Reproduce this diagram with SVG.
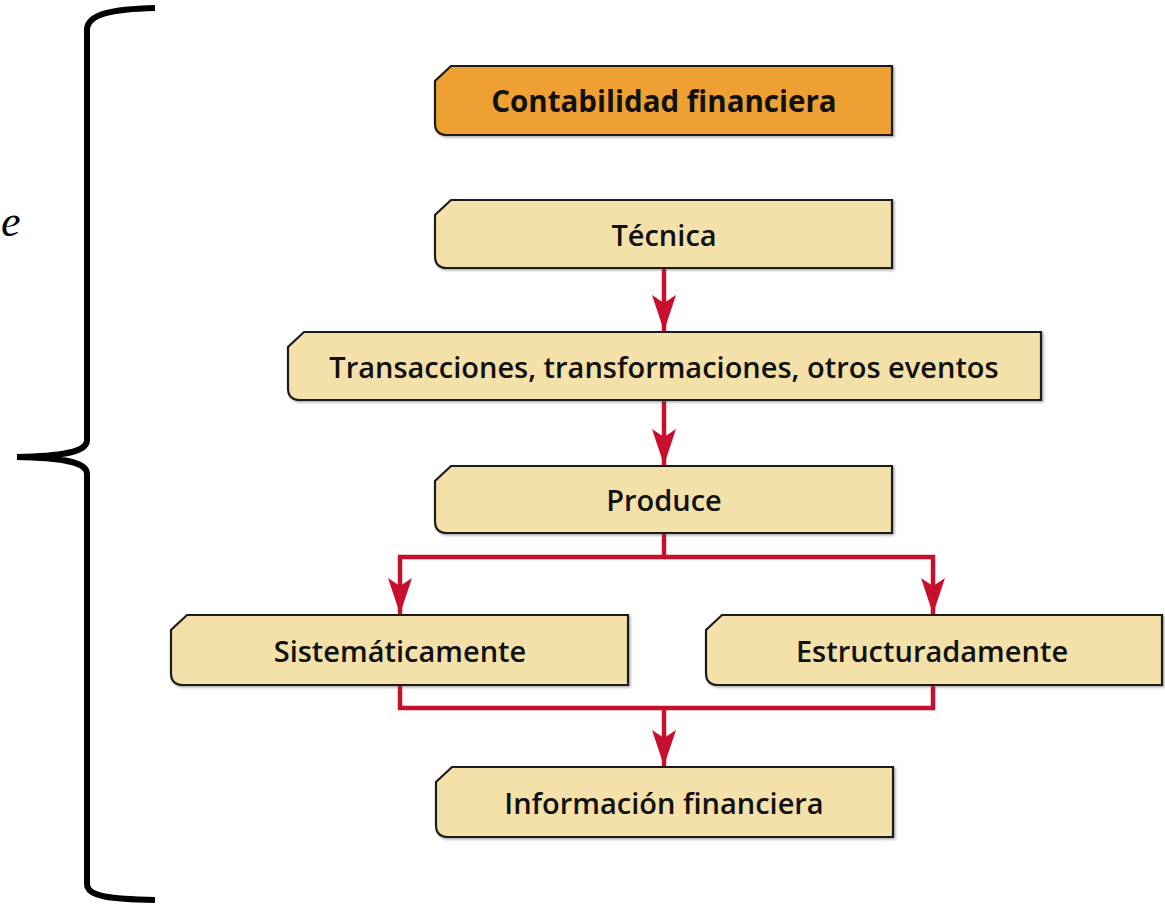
<svg xmlns="http://www.w3.org/2000/svg" width="1165" height="907" viewBox="0 0 1165 907">
<style>
.box{stroke:#1e1e1e;stroke-width:2.2;filter:url(#sh)}
.main{fill:#EEA132}
.sub{fill:#F3E1A9}
.lbl{font-family:"Open Sans","Liberation Sans",sans-serif;font-size:29px;font-weight:600;fill:#111;text-anchor:middle;dominant-baseline:central}
.bold{font-weight:700;font-size:29.5px}
.con{fill:none;stroke:#C8102E;stroke-width:4.5}
.brace{fill:none;stroke:#000;stroke-width:6;stroke-linecap:butt}
</style>
<defs>
<filter id="sh" x="-5%" y="-10%" width="110%" height="130%">
<feDropShadow dx="1.5" dy="1.5" stdDeviation="1" flood-color="#555" flood-opacity="0.5"/>
</filter>
<marker id="ah" markerUnits="userSpaceOnUse" viewBox="-2 -14 40 28" markerWidth="40" markerHeight="28" refX="36" refY="0" orient="auto">
<path d="M0,-12 L36,0 L0,12 L8,0 Z" fill="#C8102E"/>
</marker>
</defs>
<rect width="1165" height="907" fill="#fff"/>
<text x="1" y="236" font-family="Liberation Serif, serif" font-style="italic" font-size="44" fill="#000">e</text>
<path class="brace" d="M155,8 C112,9 87,14 87,30 V440 C87,451 68,456 17,457 C68,458 87,463 87,474 V884 C87,897 112,899 155,900"/>
<g id="connectors">
<path class="con" d="M664,268 V331" marker-end="url(#ah)"/>
<path class="con" d="M664,400 V465" marker-end="url(#ah)"/>
<path class="con" d="M664,533 V557 H400 V614" marker-end="url(#ah)"/>
<path class="con" d="M664,557 H933 V614" marker-end="url(#ah)"/>
<path class="con" d="M400,685 V708 H933 V685"/>
<path class="con" d="M664,708 V766" marker-end="url(#ah)"/>
</g>
<g id="n1">
<path class="box main" d="M451,66 H892 V135 H447 Q435,135 435,123 V81 Z"/>
<text class="lbl bold" x="664" y="100">Contabilidad financiera</text>
</g>
<g id="n2">
<path class="box sub" d="M451,200 H892 V268 H447 Q435,268 435,256 V215 Z"/>
<text class="lbl" x="664" y="234">Técnica</text>
</g>
<g id="n3">
<path class="box sub" d="M304,332 H1041 V400 H300 Q288,400 288,388 V347 Z"/>
<text class="lbl" x="664" y="366">Transacciones, transformaciones, otros eventos</text>
</g>
<g id="n4">
<path class="box sub" d="M451,466 H892 V533 H447 Q435,533 435,521 V481 Z"/>
<text class="lbl" x="664" y="499">Produce</text>
</g>
<g id="n5">
<path class="box sub" d="M187,615 H628 V685 H183 Q171,685 171,673 V630 Z"/>
<text class="lbl" x="400" y="650">Sistemáticamente</text>
</g>
<g id="n6">
<path class="box sub" d="M722,615 H1162 V685 H718 Q706,685 706,673 V630 Z"/>
<text class="lbl" x="932" y="650">Estructuradamente</text>
</g>
<g id="n7">
<path class="box sub" d="M452,767 H893 V837 H448 Q436,837 436,825 V782 Z"/>
<text class="lbl" x="664" y="802">Información financiera</text>
</g>
</svg>
